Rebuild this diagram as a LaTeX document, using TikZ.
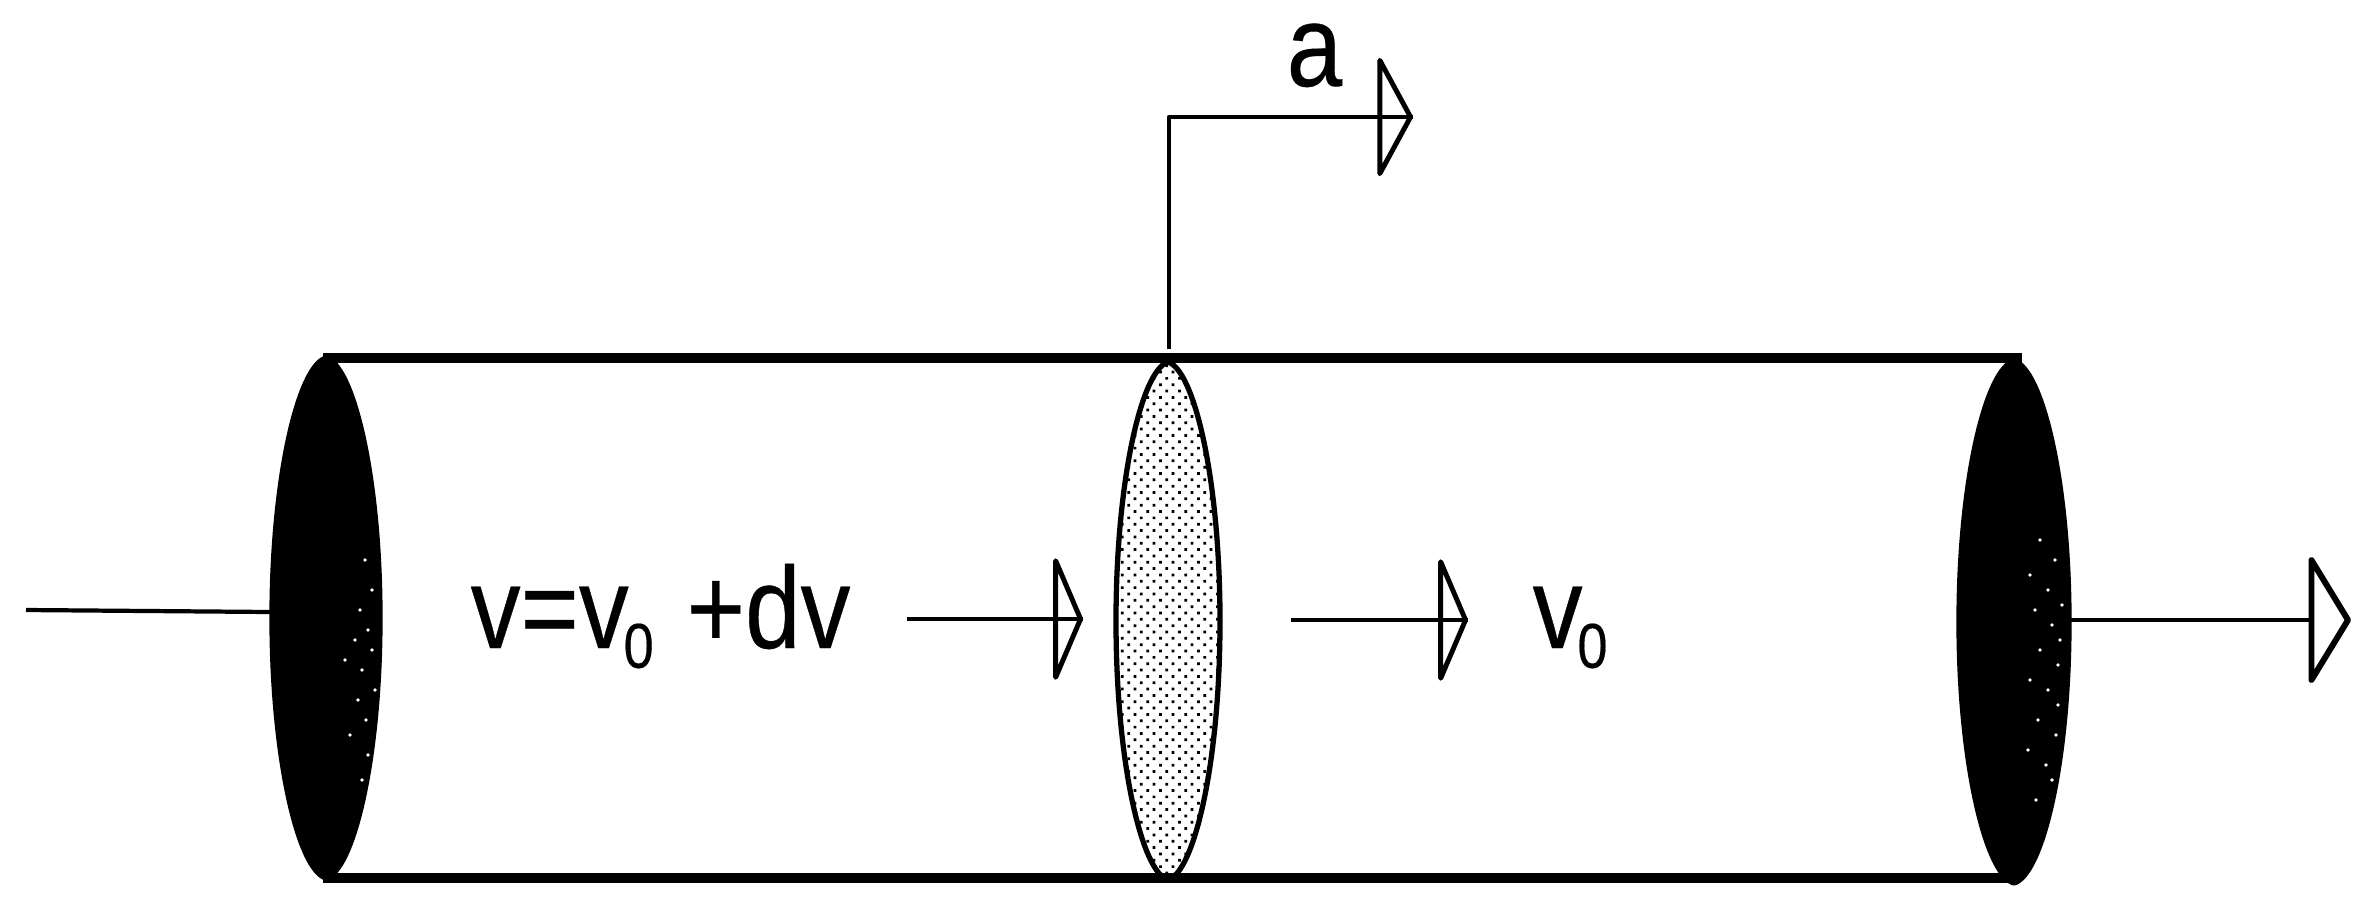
\documentclass[tikz,border=0pt]{standalone}
\usepackage{fontspec}
\setmainfont[FakeStretch=0.86, FakeBold=0.3]{Liberation Sans}
\usetikzlibrary{arrows.meta, patterns.meta, shapes.geometric}
\newcommand{\subzero}{\raisebox{-5.6pt}{\fontsize{18pt}{18pt}\selectfont\kern-1.5pt 0}}
\newcommand{\lens}[5]{\draw[#1] (#2,#3-#5) .. controls (#2+0.5*#4,#3-0.97*#5) and (#2+#4,#3-0.55*#5) .. (#2+#4,#3)
  .. controls (#2+#4,#3+0.55*#5) and (#2+0.5*#4,#3+0.97*#5) .. (#2,#3+#5)
  .. controls (#2-0.5*#4,#3+0.97*#5) and (#2-#4,#3+0.55*#5) .. (#2-#4,#3)
  .. controls (#2-#4,#3-0.55*#5) and (#2-0.5*#4,#3-0.97*#5) .. cycle;}
\tikzset{
  disc/.style={ellipse, inner sep=0pt},
  rim/.style={line width=1.5pt, line join=round},
  label/.style={inner sep=0pt, anchor=base west, font=\fontsize{33pt}{33pt}\selectfont},
  tube/.style={line width=2.6pt},
  wire/.style={line width=1.2pt},
  flow/.style={line width=1.2pt, line join=round, -{Triangle[open, round, length=0.3cm, width=1.4cm, line width=1.4pt]}}
}
\begin{document}
\begin{tikzpicture}[x=0.01cm, y=-0.01cm]
      \useasboundingbox (0,0) rectangle (2378,911);
      % discs
      \node[disc, minimum width=1.08cm, minimum height=5.2cm] (inlet) at (326,618) {};
      \node[disc, minimum width=1.04cm, minimum height=5.18cm] (front) at (1168,621) {};
      \node[disc, minimum width=1.1cm, minimum height=5.22cm] (outlet) at (2014,622) {};
      \lens{rim, fill=black}{326}{618}{54}{260}
      \lens{rim, pattern={Dots[radius=0.55pt, distance=2.55pt, angle=45]}}{1168}{621}{52}{259}
      \lens{rim, fill=black}{2014}{622}{55}{261}
      % white specks on the dark discs
      \foreach \x/\y in {365/560, 372/590, 360/610, 368/630, 355/640, 372/650, 362/670, 375/690, 358/700, 366/720, 350/735, 368/755, 362/780, 345/660} {
        \fill[white] (\x,\y) circle (1.8);
      }
      \foreach \x/\y in {2040/540, 2055/560, 2030/575, 2048/590, 2062/605, 2035/610, 2052/625, 2060/640, 2040/650, 2058/665, 2030/680, 2048/690, 2058/705, 2038/720, 2056/735, 2028/750, 2046/765, 2052/780, 2036/800} {
        \fill[white] (\x,\y) circle (1.8);
      }
      % walls
      \coordinate (tl) at (323,358);
      \coordinate (tr) at (2022,358);
      \coordinate (bl) at (323,878);
      \coordinate (br) at (2014,878);
      \draw[tube] (tl) -- (tr);
      \draw[tube] (bl) -- (br);
      % texts
      \node[label] (speed) at (470,648) {v=v\subzero\ \kern1.5pt+dv};
      \node[label] (rest) at (1532,648) {v\subzero};
      \node[label] (shift) at (1286,86) {a};
      % arrows
      \coordinate (in) at (26,610);
      \draw[wire] (in) -- (inlet.west |- 0,612);
      \coordinate (a1) at (907,619);
      \coordinate (a2) at (1083,619);
      \draw[flow] (a1) -- (a2);
      \draw[wire] (a1) -- (a2);
      \coordinate (b1) at (1291,620);
      \coordinate (b2) at (1468,620);
      \draw[flow] (b1) -- (b2);
      \draw[wire] (b1) -- (b2);
      \coordinate (out) at (2351,620);
      \draw[flow, -{Triangle[open, round, length=0.43cm, width=1.4cm, line width=1.7pt]}] (outlet.east |- out) -- (out);
      \coordinate (up) at (1169,349);
      \coordinate (bend) at (1169,117);
      \coordinate (far) at (1413,117);
      \draw[flow, -{Triangle[open, round, length=0.36cm, width=1.32cm, line width=1.4pt]}] (up) -- (bend) -- (far);
      \draw[wire] (bend) -- (far);
    \end{tikzpicture}
\end{document}
